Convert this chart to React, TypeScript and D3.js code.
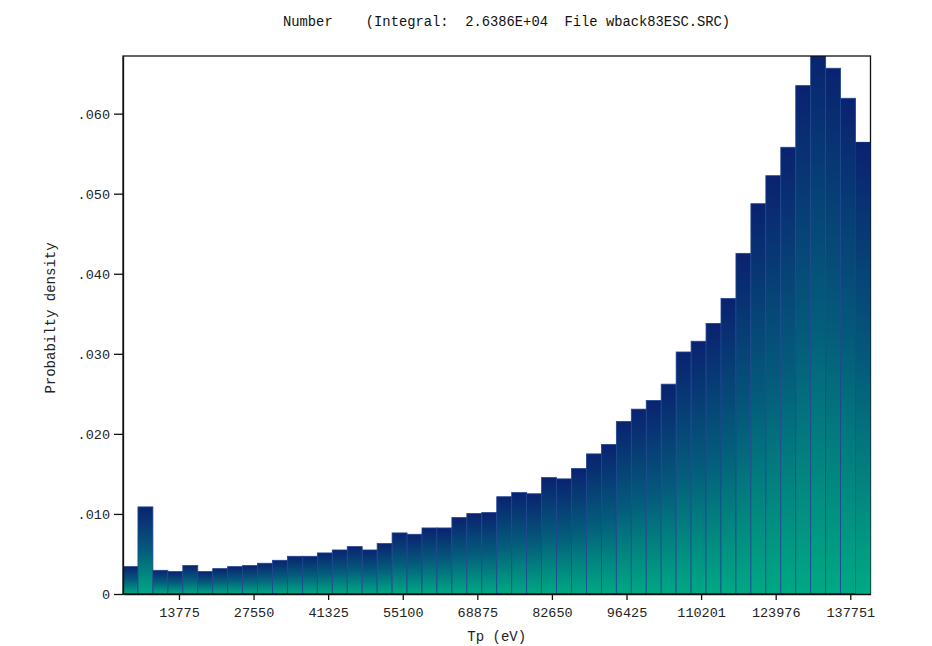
import React, { useRef, useEffect } from "react";
import { select, scaleLinear, axisLeft, axisBottom } from "d3";

// bin heights (probability density), 50 bins left to right
const densities = [
  0.00342, 0.01088, 0.00296, 0.0028, 0.00355, 0.0028, 0.00317, 0.00342, 0.00355, 0.00384,
  0.00421, 0.00471, 0.00471, 0.00513, 0.0055, 0.00592, 0.0055, 0.0063, 0.00763, 0.00746,
  0.00825, 0.00825, 0.00955, 0.01005, 0.01017, 0.01215, 0.01267, 0.01252, 0.01455, 0.01438,
  0.01567, 0.0175, 0.01867, 0.02155, 0.02309, 0.02417, 0.02621, 0.03023, 0.03157, 0.0338,
  0.03692, 0.04255, 0.04875, 0.05225, 0.0558, 0.0635, 0.0685, 0.06567, 0.06192, 0.05642,
];

const xTicks = [13775, 27550, 41325, 55100, 68875, 82650, 96425, 110201, 123976, 137751];
const yTicks = [0, 0.01, 0.02, 0.03, 0.04, 0.05, 0.06];

const energyMin = 3437;
const binWidth = 2761;
const energyMax = energyMin + binWidth * densities.length;
const densityMax = 0.0672;

const titleText = "Number    (Integral:  2.6386E+04  File wback83ESC.SRC)";
const xLabelText = "Tp (eV)";
const yLabelText = "Probabilty density";

const FONT = "'Liberation Mono', 'DejaVu Sans Mono', monospace";

const Histogram: React.FC = () => {
  const d3Element = useRef<HTMLDivElement>(null);

  const renderD3 = () => {
    const width = 932,
      height = 646;
    const margin = { top: 56, right: 61.5, bottom: 52, left: 123 };

    const svg = select(d3Element.current)
      .append("svg")
      .attr("width", width)
      .attr("height", height)
      .style("position", "absolute")
      .style("left", "0px")
      .style("top", "0px")
      .style("background", "#fff");

    const innerWidth = width - margin.left - margin.right;
    const innerHeight = height - margin.top - margin.bottom;

    const xScale = scaleLinear().domain([energyMin, energyMax]).range([0, innerWidth]);
    const yScale = scaleLinear().domain([0, densityMax]).range([innerHeight, 0]);

    const defs = svg.append("defs");
    const grad = defs
      .append("linearGradient")
      .attr("id", "barGrad")
      .attr("x1", 0)
      .attr("y1", 0)
      .attr("x2", 0)
      .attr("y2", 1);
    grad.append("stop").attr("offset", "0%").attr("stop-color", "#0a2270");
    grad.append("stop").attr("offset", "50%").attr("stop-color", "#045c7b");
    grad.append("stop").attr("offset", "100%").attr("stop-color", "#00a984");

    defs
      .append("clipPath")
      .attr("id", "plotClip")
      .append("rect")
      .attr("x", 0)
      .attr("y", 0)
      .attr("width", innerWidth)
      .attr("height", innerHeight);

    const g: any = svg
      .append("g")
      .attr("transform", `translate(${margin.left},${margin.top})`);

    // bars
    g.append("g")
      .attr("clip-path", "url(#plotClip)")
      .selectAll("rect")
      .data(densities)
      .enter()
      .append("rect")
      .attr("x", (d: number, i: number) => xScale(energyMin + i * binWidth))
      .attr("y", (d: number) => yScale(d))
      .attr("width", (d: number, i: number) =>
        xScale(energyMin + (i + 1) * binWidth) - xScale(energyMin + i * binWidth)
      )
      .attr("height", (d: number) => innerHeight - yScale(d))
      .attr("fill", "url(#barGrad)")
      .attr("stroke", "#1f4690")
      .attr("stroke-width", 0.8);

    // frame
    g.append("rect")
      .attr("x", 0)
      .attr("y", 0)
      .attr("width", innerWidth)
      .attr("height", innerHeight)
      .attr("fill", "none")
      .attr("stroke", "#111")
      .attr("stroke-width", 1.3);
    // last bar sits over the right border like the original
    g.append("g")
      .attr("clip-path", "url(#plotClip)")
      .selectAll("rect")
      .data(densities.slice(-1))
      .enter()
      .append("rect")
      .attr("x", xScale(energyMax - binWidth))
      .attr("y", (d: number) => yScale(d))
      .attr("width", xScale(energyMax) - xScale(energyMax - binWidth) + 1)
      .attr("height", (d: number) => innerHeight - yScale(d))
      .attr("fill", "url(#barGrad)");

    const xAxis = axisBottom(xScale)
      .tickValues(xTicks)
      .tickSize(6)
      .tickSizeOuter(0)
      .tickFormat((d: any) => `${d}`);
    const yAxis = axisLeft(yScale)
      .tickValues(yTicks)
      .tickSize(9)
      .tickSizeOuter(0)
      .tickFormat((d: any) => (d === 0 ? "0" : (+d).toFixed(3).replace(/^0/, "")));

    const xAxisG = g.append("g").attr("transform", `translate(0,${innerHeight})`).call(xAxis);
    const yAxisG = g.append("g").call(yAxis);

    [xAxisG, yAxisG].forEach((ax: any) => {
      ax.select(".domain").attr("stroke", "#111").attr("stroke-width", 1.3);
      ax.selectAll(".tick line").attr("stroke", "#111").attr("stroke-width", 1.3);
      ax.selectAll("text")
        .attr("fill", "#222")
        .style("font-family", FONT)
        .style("font-size", "13.5px");
    });
    xAxisG.selectAll("text").attr("y", 13).attr("dy", "0.71em");
    yAxisG.selectAll("text").attr("x", -13).attr("dy", "0.35em");

    // y axis label
    g.append("text")
      .attr("transform", `translate(-68,${innerHeight / 2 - 7}) rotate(-90)`)
      .attr("text-anchor", "middle")
      .attr("fill", "#222")
      .style("font-family", FONT)
      .style("font-size", "14px")
      .text(yLabelText);

    // x axis label, kept just inside the bottom edge
    g.append("text")
      .attr("x", innerWidth / 2)
      .attr("y", innerHeight + 47)
      .attr("text-anchor", "middle")
      .attr("fill", "#222")
      .style("font-family", FONT)
      .style("font-size", "14px")
      .text(xLabelText);

    // title
    svg
      .append("text")
      .attr("x", 283)
      .attr("y", 26)
      .attr("fill", "#111")
      .style("font-family", FONT)
      .style("font-size", "13.8px")
      .style("white-space", "pre")
      .text(titleText);
  };

  useEffect(() => {
    select(d3Element.current).selectAll("svg").remove();
    renderD3();
  }, []);

  return <div ref={d3Element} className="chart-container"></div>;
};

export default function App() {
  return <Histogram />;
}
